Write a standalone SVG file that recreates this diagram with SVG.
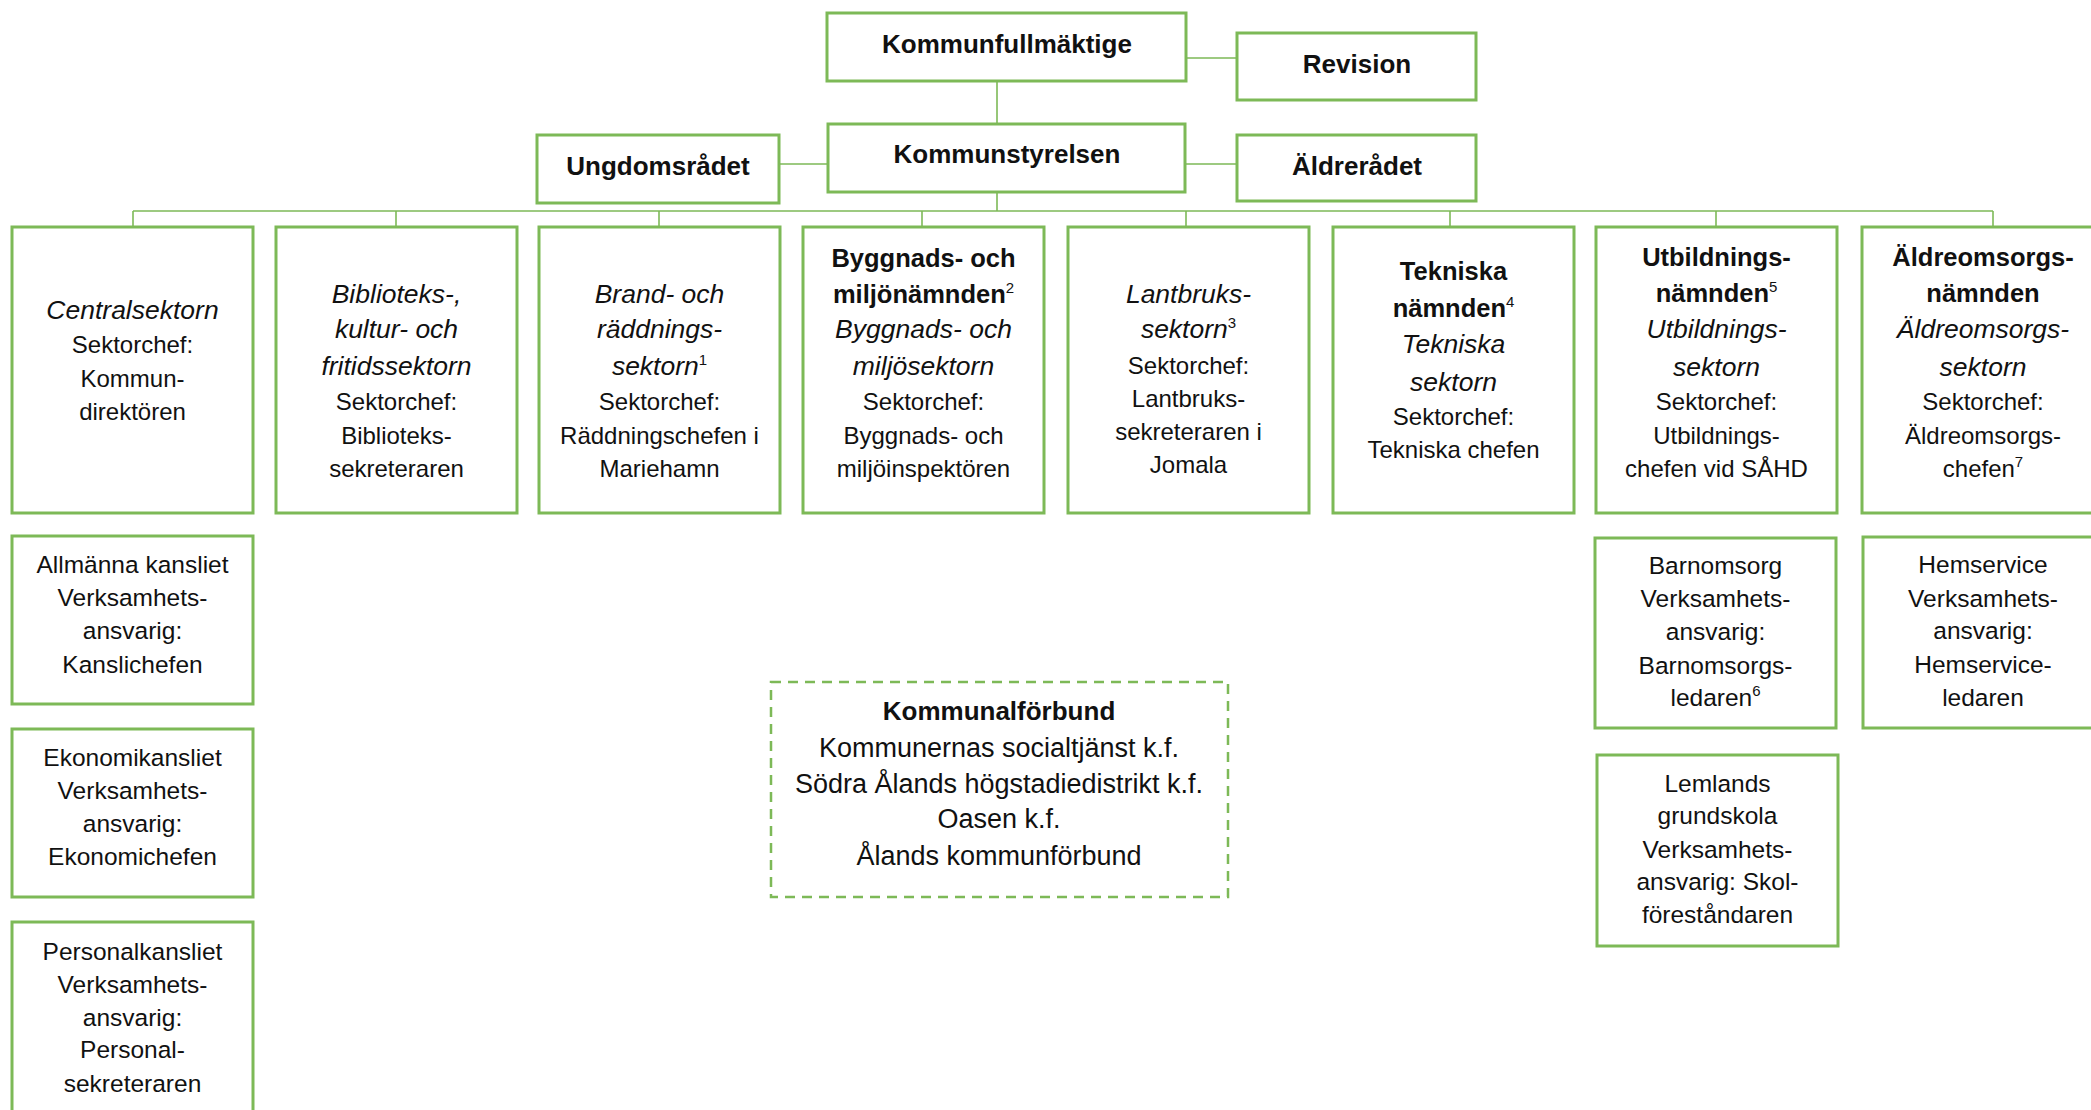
<svg xmlns="http://www.w3.org/2000/svg" width="2091" height="1110" viewBox="0 0 2091 1110">
<style>
.box{fill:#fff;stroke:#7db957;stroke-width:3}
.dash{fill:#fff;stroke:#7db957;stroke-width:2.5;stroke-dasharray:10 7}
.conn line{stroke:#7db957;stroke-width:1.6}
text{font-family:"Liberation Sans",Arial,sans-serif;text-anchor:middle;fill:#111}
.t{font-size:26px;font-weight:bold}
.b{font-size:25.5px;font-weight:bold}
.i{font-size:26.5px;font-style:italic}
.r{font-size:24px}
.s{font-size:24.5px}
.k{font-size:27px}
.kb{font-size:26px;font-weight:bold}
.sup{font-size:15px;font-style:normal;font-weight:normal}
</style>
<g id="connectors" class="conn">
<line x1="1186" y1="58" x2="1237" y2="58"/>
<line x1="997" y1="81" x2="997" y2="124"/>
<line x1="779" y1="164" x2="828" y2="164"/>
<line x1="1185" y1="164" x2="1237" y2="164"/>
<line x1="997" y1="192" x2="997" y2="211"/>
<line x1="133" y1="211" x2="1993" y2="211"/>
<line x1="133" y1="211" x2="133" y2="227"/>
<line x1="396" y1="211" x2="396" y2="227"/>
<line x1="659" y1="211" x2="659" y2="227"/>
<line x1="922" y1="211" x2="922" y2="227"/>
<line x1="1186" y1="211" x2="1186" y2="227"/>
<line x1="1450" y1="211" x2="1450" y2="227"/>
<line x1="1716" y1="211" x2="1716" y2="227"/>
<line x1="1993" y1="211" x2="1993" y2="227"/>
</g>
<g id="kommunfullmaktige"><rect class="box" x="827" y="13" width="359" height="68"/><text class="t" x="1007" y="53">Kommunfullmäktige</text></g>
<g id="revision"><rect class="box" x="1237" y="33" width="239" height="67"/><text class="t" x="1357" y="73">Revision</text></g>
<g id="kommunstyrelsen"><rect class="box" x="828" y="124" width="357" height="68"/><text class="t" x="1007" y="163">Kommunstyrelsen</text></g>
<g id="ungdomsradet"><rect class="box" x="537" y="135" width="242" height="68"/><text class="t" x="658" y="175">Ungdomsrådet</text></g>
<g id="aldreradet"><rect class="box" x="1237" y="135" width="239" height="66"/><text class="t" x="1357" y="175">Äldrerådet</text></g>

<g id="centralsektorn"><rect class="box" x="12" y="227" width="241" height="286"/>
<text class="i" x="132.5" y="319">Centralsektorn</text>
<text class="r" x="132.5" y="353">Sektorchef:</text>
<text class="r" x="132.5" y="387">Kommun-</text>
<text class="r" x="132.5" y="420">direktören</text></g>

<g id="biblioteks"><rect class="box" x="276" y="227" width="241" height="286"/>
<text class="i" x="396.5" y="303">Biblioteks-,</text>
<text class="i" x="396.5" y="338">kultur- och</text>
<text class="i" x="396.5" y="375">fritidssektorn</text>
<text class="r" x="396.5" y="410">Sektorchef:</text>
<text class="r" x="396.5" y="444">Biblioteks-</text>
<text class="r" x="396.5" y="477">sekreteraren</text></g>

<g id="brand"><rect class="box" x="539" y="227" width="241" height="286"/>
<text class="i" x="659.5" y="303">Brand- och</text>
<text class="i" x="659.5" y="338">räddnings-</text>
<text class="i" x="659.5" y="375">sektorn<tspan class="sup" dy="-10">1</tspan></text>
<text class="r" x="659.5" y="410">Sektorchef:</text>
<text class="r" x="659.5" y="444">Räddningschefen i</text>
<text class="r" x="659.5" y="477">Mariehamn</text></g>

<g id="byggnads"><rect class="box" x="803" y="227" width="241" height="286"/>
<text class="b" x="923.5" y="267">Byggnads- och</text>
<text class="b" x="923.5" y="303">miljönämnden<tspan class="sup" dy="-10">2</tspan></text>
<text class="i" x="923.5" y="338">Byggnads- och</text>
<text class="i" x="923.5" y="375">miljösektorn</text>
<text class="r" x="923.5" y="410">Sektorchef:</text>
<text class="r" x="923.5" y="444">Byggnads- och</text>
<text class="r" x="923.5" y="477">miljöinspektören</text></g>

<g id="lantbruks"><rect class="box" x="1068" y="227" width="241" height="286"/>
<text class="i" x="1188.5" y="303">Lantbruks-</text>
<text class="i" x="1188.5" y="338">sektorn<tspan class="sup" dy="-10">3</tspan></text>
<text class="r" x="1188.5" y="374">Sektorchef:</text>
<text class="r" x="1188.5" y="407">Lantbruks-</text>
<text class="r" x="1188.5" y="440">sekreteraren i</text>
<text class="r" x="1188.5" y="473">Jomala</text></g>

<g id="tekniska"><rect class="box" x="1333" y="227" width="241" height="286"/>
<text class="b" x="1453.5" y="280">Tekniska</text>
<text class="b" x="1453.5" y="317">nämnden<tspan class="sup" dy="-10">4</tspan></text>
<text class="i" x="1453.5" y="353">Tekniska</text>
<text class="i" x="1453.5" y="391">sektorn</text>
<text class="r" x="1453.5" y="425">Sektorchef:</text>
<text class="r" x="1453.5" y="458">Tekniska chefen</text></g>

<g id="utbildnings"><rect class="box" x="1596" y="227" width="241" height="286"/>
<text class="b" x="1716.5" y="266">Utbildnings-</text>
<text class="b" x="1716.5" y="302">nämnden<tspan class="sup" dy="-10">5</tspan></text>
<text class="i" x="1716.5" y="338">Utbildnings-</text>
<text class="i" x="1716.5" y="376">sektorn</text>
<text class="r" x="1716.5" y="410">Sektorchef:</text>
<text class="r" x="1716.5" y="444">Utbildnings-</text>
<text class="r" x="1716.5" y="477">chefen vid SÅHD</text></g>

<g id="aldreomsorgs"><rect class="box" x="1862" y="227" width="241" height="286"/>
<text class="b" x="1983" y="266">Äldreomsorgs-</text>
<text class="b" x="1983" y="302">nämnden</text>
<text class="i" x="1983" y="338">Äldreomsorgs-</text>
<text class="i" x="1983" y="376">sektorn</text>
<text class="r" x="1983" y="410">Sektorchef:</text>
<text class="r" x="1983" y="444">Äldreomsorgs-</text>
<text class="r" x="1983" y="477">chefen<tspan class="sup" dy="-10">7</tspan></text></g>

<g id="allmanna"><rect class="box" x="12" y="536" width="241" height="168"/>
<text class="s" x="132.5" y="573">Allmänna kansliet</text>
<text class="s" x="132.5" y="606">Verksamhets-</text>
<text class="s" x="132.5" y="639">ansvarig:</text>
<text class="s" x="132.5" y="673">Kanslichefen</text></g>

<g id="ekonomi"><rect class="box" x="12" y="729" width="241" height="168"/>
<text class="s" x="132.5" y="766">Ekonomikansliet</text>
<text class="s" x="132.5" y="799">Verksamhets-</text>
<text class="s" x="132.5" y="832">ansvarig:</text>
<text class="s" x="132.5" y="865">Ekonomichefen</text></g>

<g id="personal"><rect class="box" x="12" y="922" width="241" height="200"/>
<text class="s" x="132.5" y="960">Personalkansliet</text>
<text class="s" x="132.5" y="993">Verksamhets-</text>
<text class="s" x="132.5" y="1026">ansvarig:</text>
<text class="s" x="132.5" y="1058">Personal-</text>
<text class="s" x="132.5" y="1092">sekreteraren</text></g>

<g id="barnomsorg"><rect class="box" x="1595" y="538" width="241" height="190"/>
<text class="s" x="1715.5" y="574">Barnomsorg</text>
<text class="s" x="1715.5" y="607">Verksamhets-</text>
<text class="s" x="1715.5" y="640">ansvarig:</text>
<text class="s" x="1715.5" y="674">Barnomsorgs-</text>
<text class="s" x="1715.5" y="706">ledaren<tspan class="sup" dy="-10">6</tspan></text></g>

<g id="lemlands"><rect class="box" x="1597" y="755" width="241" height="191"/>
<text class="s" x="1717.5" y="792">Lemlands</text>
<text class="s" x="1717.5" y="824">grundskola</text>
<text class="s" x="1717.5" y="858">Verksamhets-</text>
<text class="s" x="1717.5" y="890">ansvarig: Skol-</text>
<text class="s" x="1717.5" y="923">föreståndaren</text></g>

<g id="hemservice"><rect class="box" x="1863" y="537" width="241" height="191"/>
<text class="s" x="1983" y="573">Hemservice</text>
<text class="s" x="1983" y="607">Verksamhets-</text>
<text class="s" x="1983" y="639">ansvarig:</text>
<text class="s" x="1983" y="673">Hemservice-</text>
<text class="s" x="1983" y="706">ledaren</text></g>

<g id="kommunalforbund"><rect class="dash" x="771" y="682" width="457" height="215"/>
<text class="kb" x="999" y="720">Kommunalförbund</text>
<text class="k" x="999" y="757">Kommunernas socialtjänst k.f.</text>
<text class="k" x="999" y="793">Södra Ålands högstadiedistrikt k.f.</text>
<text class="k" x="999" y="828">Oasen k.f.</text>
<text class="k" x="999" y="865">Ålands kommunförbund</text></g>
</svg>
